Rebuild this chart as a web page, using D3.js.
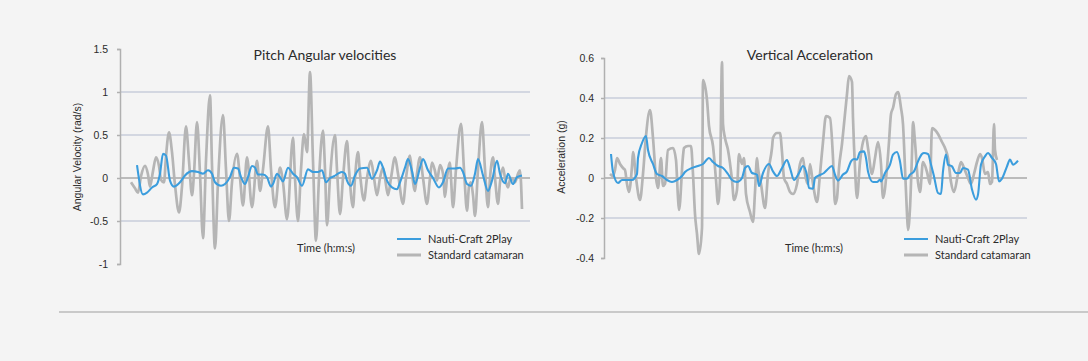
<!DOCTYPE html>
<html>
<head>
<meta charset="utf-8">
<script src="https://cdn.jsdelivr.net/npm/d3@7"></script>
<style>
  body { margin: 0; background: #f4f4f4; }
  svg { display: block; }
  text { fill: #2b2b2b; }
</style>
</head>
<body>
<div id="chart"></div>
<script>

// Pitch angular velocity (rad/s), [time (s), value]
var pitchCatamaran = [[11,-0.05],[15,-0.12],[18,-0.17],[21,0.02],[25,0.14],[28,0.04],[30,-0.1],[33,0.08],[36,0.24],[39,0.14],[41,-0.02],[44,-0.05],[46,0.25],[49,0.53],[52,0.3],[55,-0.08],[59,-0.4],[62,-0.1],[66,0.6],[69,0.2],[72,-0.2],[74,0.05],[77,0.65],[80,0.05],[83,-0.7],[86,0.2],[90,0.96],[92,0.15],[95,-0.82],[98,-0.05],[103,0.73],[106,0.1],[109,-0.5],[112,-0.05],[117,0.28],[120,0.0],[123,-0.32],[127,0.24],[132,-0.34],[137,0.2],[140,-0.15],[143,0.1],[148,0.6],[151,0.1],[155,-0.34],[160,0.12],[163,-0.05],[167,-0.48],[173,0.47],[175,0.0],[178,-0.5],[181,0.1],[184,0.51],[187,0.3],[190,1.23],[193,0.2],[196,-0.73],[199,0.0],[203,0.55],[205,0.1],[207,-0.55],[210,0.0],[215,0.5],[217,0.1],[220,-0.42],[223,0.0],[227,0.43],[229,0.1],[233,-0.34],[235,0.0],[238,0.3],[240,0.05],[244,-0.26],[247,0.0],[251,0.2],[254,0.0],[257,-0.2],[260,0.0],[263,0.12],[265,0.0],[268,-0.2],[271,0.0],[275,0.24],[278,0.05],[283,-0.3],[286,0.0],[290,0.26],[292,0.05],[295,-0.15],[297,0.05],[300,0.24],[303,0.0],[307,-0.3],[310,0.0],[312,0.18],[315,0.08],[317,-0.03],[320,0.15],[323,0.05],[325,-0.22],[327,0.0],[330,0.18],[331,0.0],[333,-0.34],[336,0.1],[341,0.63],[344,0.1],[347,-0.38],[349,-0.1],[351,-0.05],[353,-0.2],[355,-0.44],[358,0.1],[362,0.65],[365,0.1],[368,-0.34],[370,0.0],[373,0.24],[375,0.0],[378,-0.3],[380,-0.05],[383,0.12],[385,0.0],[388,-0.11],[390,-0.02],[392,0.0],[395,-0.05],[398,0.05],[400,0.09],[402,-0.36]];

var pitchNautiCraft = [[17,0.15],[23,-0.19],[27,-0.17],[32,-0.11],[37,-0.07],[40,0.05],[43,0.28],[46,0.26],[50,-0.03],[54,-0.1],[60,-0.05],[65,0.03],[72,0.08],[78,0.07],[83,0.05],[88,0.09],[92,0.05],[95,-0.05],[101,-0.09],[105,-0.07],[110,0.01],[114,0.12],[118,0.11],[121,0.01],[125,-0.07],[128,0.01],[132,0.14],[135,0.12],[138,0.04],[143,0.04],[147,0.01],[151,-0.1],[153,-0.07],[157,0.05],[160,0.01],[163,-0.04],[168,0.12],[173,0.05],[177,0.01],[182,-0.09],[188,0.1],[193,0.07],[198,0.07],[202,0.09],[206,-0.05],[210,0.0],[214,0.02],[218,0.05],[222,0.07],[225,0.05],[227,-0.03],[231,-0.09],[235,0.03],[240,0.11],[247,0.12],[252,-0.01],[257,0.09],[260,0.19],[263,0.12],[267,-0.03],[272,-0.11],[277,-0.13],[280,-0.05],[285,0.12],[288,0.22],[292,0.08],[295,-0.07],[300,0.12],[303,0.22],[308,0.09],[313,0.0],[319,-0.11],[323,-0.05],[328,0.11],[335,0.11],[340,0.12],[343,0.07],[347,-0.07],[351,-0.09],[355,0.05],[358,0.22],[363,0.03],[368,-0.15],[372,-0.03],[377,0.2],[380,0.05],[385,-0.06],[388,0.05],[393,-0.07],[397,0.01],[402,0.03]];

// Vertical acceleration (g), [time (s), value]
var accelCatamaran = [[6,0.02],[9,0.01],[11,0.04],[13,0.1],[16,0.07],[19,0.05],[21,0.04],[23,-0.03],[25,-0.07],[28,0.06],[29,0.13],[32,0.0],[36,-0.11],[39,0.02],[42,0.21],[46,0.34],[49,0.2],[52,0.0],[54,-0.05],[57,0.1],[59,-0.04],[61,-0.03],[64,0.14],[69,0.15],[72,0.09],[74,-0.1],[75,-0.16],[79,0.11],[80,0.15],[84,0.16],[87,0.16],[89,0.02],[91,-0.18],[93,-0.28],[95,-0.38],[98,-0.25],[99,0.49],[103,0.39],[105,0.26],[109,0.16],[112,-0.01],[114,-0.13],[116,-0.01],[118,0.58],[119,0.27],[121,0.2],[124,0.14],[128,-0.01],[130,-0.11],[133,-0.06],[135,0.12],[138,0.07],[140,0.1],[142,-0.08],[146,-0.17],[149,-0.22],[151,-0.07],[153,0.1],[154,0.05],[157,-0.03],[161,-0.15],[164,0.02],[168,0.15],[169,0.2],[173,0.225],[176,0.225],[178,0.13],[180,0.0],[183,-0.03],[186,-0.07],[189,-0.08],[193,-0.03],[196,0.07],[199,0.1],[201,0.02],[204,-0.03],[206,0.07],[209,-0.03],[213,-0.12],[216,0.02],[219,0.18],[222,0.31],[226,0.3],[229,0.1],[231,-0.13],[233,-0.1],[235,0.05],[238,0.17],[240,0.27],[243,0.42],[245,0.51],[248,0.48],[249,0.3],[251,0.05],[253,-0.1],[256,0.08],[259,0.18],[262,0.21],[264,0.15],[268,0.02],[271,0.1],[274,0.18],[277,0.07],[279,-0.1],[283,0.05],[285,0.18],[287,0.32],[289,0.35],[292,0.42],[294,0.43],[297,0.35],[299,0.27],[301,0.05],[303,-0.18],[304,-0.26],[306,-0.15],[308,0.12],[309,0.28],[311,0.18],[314,-0.02],[316,-0.07],[319,0.08],[323,0.03],[326,-0.03],[328,0.25],[331,0.24],[334,0.22],[338,0.18],[341,0.15],[344,0.1],[347,-0.02],[350,-0.07],[354,0.02],[357,0.08],[360,0.05],[364,0.0],[367,-0.03],[370,0.02],[373,0.08],[376,0.12],[378,0.1],[381,0.02],[384,0.03],[386,-0.03],[388,-0.02],[390,0.27],[391,0.14],[393,0.09]];

var accelNautiCraft = [[7,0.12],[9,0.03],[14,-0.025],[18,-0.01],[23,-0.01],[28,-0.01],[33,0.02],[34,0.1],[38,0.175],[42,0.21],[44,0.14],[49,0.07],[53,0.02],[58,0.01],[63,-0.01],[68,-0.02],[73,-0.01],[78,0.01],[81,0.03],[88,0.05],[94,0.06],[99,0.07],[105,0.1],[109,0.08],[114,0.06],[119,0.05],[124,0.02],[128,-0.01],[133,-0.02],[138,0.0],[141,0.05],[144,0.06],[148,0.025],[153,0.017],[155,-0.04],[159,0.025],[165,0.07],[169,0.033],[173,0.01],[178,0.05],[183,0.09],[186,0.05],[190,-0.01],[195,0.025],[199,0.06],[203,0.013],[205,-0.05],[209,-0.053],[211,0.0],[215,0.013],[220,0.025],[223,0.04],[228,0.06],[231,0.017],[234,-0.013],[239,0.017],[243,0.033],[247,0.083],[250,0.095],[253,0.092],[256,0.13],[260,0.133],[262,0.1],[264,0.033],[269,-0.02],[273,-0.02],[276,-0.008],[277,-0.017],[281,0.025],[286,0.067],[289,0.117],[293,0.13],[296,0.083],[299,-0.003],[303,-0.003],[306,0.017],[310,0.033],[314,0.083],[318,0.12],[320,0.125],[324,0.12],[327,0.067],[330,0.008],[334,-0.075],[337,-0.08],[339,0.033],[342,0.117],[344,0.067],[348,0.058],[352,0.025],[356,0.025],[359,0.05],[364,0.042],[368,-0.058],[372,-0.108],[374,-0.083],[377,0.067],[381,0.108],[384,0.125],[388,0.1],[392,0.07],[395,-0.017],[398,-0.003],[403,0.058],[406,0.092],[409,0.067],[414,0.087]];

var pitchTicks = [-1, -0.5, 0, 0.5, 1, 1.5];
var pitchGrid = [-0.5, 0, 0.5, 1];
var accelTicks = [-0.4, -0.2, 0, 0.2, 0.4, 0.6];
var accelGrid = [-0.2, 0, 0.2, 0.4];

var seriesNames = ["Nauti-Craft 2Play", "Standard catamaran"];
var blue = "#3b9ddd", grey = "#b5b5b5";

var svg = d3.select("#chart")
  .append("svg")
  .attr("width", 1088)
  .attr("height", 361);

// Draw one of the two panels
function drawPanel(cfg) {
  var x = d3.scaleLinear().domain([0, cfg.tMax]).range([cfg.left, cfg.right]);
  var y = d3.scaleLinear().domain(cfg.yDomain).range([cfg.bottom, cfg.top]);

  var g = svg.append("g");

  // gridlines
  g.selectAll(".grid")
    .data(cfg.grid)
    .enter()
    .append("line")
    .attr("x1", cfg.left)
    .attr("x2", cfg.right)
    .attr("y1", function (d) { return y(d) })
    .attr("y2", function (d) { return y(d) })
    .attr("stroke", function (d) { return d === 0 ? "#a9a9a9" : "#c9cedb" })
    .attr("stroke-width", 1.5);

  // Y axis
  var axis = g.append("g")
    .attr("transform", "translate(" + cfg.left + ",0)")
    .call(d3.axisLeft(y).tickValues(cfg.ticks).tickSize(3).tickPadding(cfg.pad)
      .tickFormat(function (d) { return String(+d.toFixed(2)) }));
  axis.select(".domain").attr("stroke", "#b0b0b0").attr("stroke-width", 1.5);
  axis.selectAll(".tick line").attr("stroke", "#b0b0b0").attr("stroke-width", 1.5);
  axis.selectAll(".tick text")
    .style("font-family", "'Liberation Sans', Arial, sans-serif")
    .style("font-size", "10.5px")
    .attr("fill", "#333");

  // lines
  var line = d3.line()
    .x(function (d) { return x(d[0]) })
    .y(function (d) { return y(d[1]) })
    .curve(d3.curveMonotoneX);

  g.append("path")
    .datum(cfg.catamaran)
    .attr("d", line)
    .attr("fill", "none")
    .attr("stroke", grey)
    .attr("stroke-width", 2.7)
    .attr("stroke-linejoin", "round");

  g.append("path")
    .datum(cfg.nauti)
    .attr("d", line)
    .attr("fill", "none")
    .attr("stroke", blue)
    .attr("stroke-width", 2.1)
    .attr("stroke-linejoin", "round");

  // title
  g.append("text")
    .attr("x", cfg.titleX)
    .attr("y", 60)
    .attr("text-anchor", "middle")
    .style("font-family", "Lato, sans-serif")
    .style("font-size", "14px")
    .text(cfg.title);

  // y label
  g.append("text")
    .attr("transform", "translate(" + cfg.yLabelX + "," + 157 + ") rotate(-90)")
    .attr("text-anchor", "middle")
    .attr("dy", "0.35em")
    .style("font-family", "'Liberation Sans', Arial, sans-serif")
    .style("font-size", "10.5px")
    .text(cfg.yLabel);

  // x label
  g.append("text")
    .attr("x", cfg.timeX)
    .attr("y", 252)
    .style("font-family", "Lato, sans-serif")
    .style("font-size", "11px")
    .text("Time (h:m:s)");

  // legend
  var legend = g.selectAll(".legend")
    .data(seriesNames)
    .enter()
    .append("g")
    .attr("transform", function (d, i) { return "translate(" + cfg.legendX + "," + (239 + i * 16) + ")" });
  legend.append("line")
    .attr("x1", 0).attr("x2", 24)
    .attr("stroke", function (d, i) { return i === 0 ? blue : grey })
    .attr("stroke-width", function (d, i) { return i === 0 ? 2 : 3 });
  legend.append("text")
    .attr("x", 31)
    .attr("dy", "0.35em")
    .style("font-family", "Lato, sans-serif")
    .style("font-size", "11px")
    .text(function (d) { return d });
}

drawPanel({
  left: 120, right: 530, top: 49, bottom: 264, tMax: 410,
  yDomain: [-1, 1.5], ticks: pitchTicks, grid: pitchGrid, pad: 9,
  catamaran: pitchCatamaran, nauti: pitchNautiCraft,
  title: "Pitch Angular velocities", titleX: 325,
  yLabel: "Angular Velocity (rad/s)", yLabelX: 77,
  timeX: 297, legendX: 397
});

drawPanel({
  left: 604, right: 1027, top: 58, bottom: 258, tMax: 423,
  yDomain: [-0.4, 0.6], ticks: accelTicks, grid: accelGrid, pad: 7,
  catamaran: accelCatamaran, nauti: accelNautiCraft,
  title: "Vertical Acceleration", titleX: 810,
  yLabel: "Acceleration (g)", yLabelX: 561,
  timeX: 785, legendX: 904
});

// separator rule under the charts
svg.append("line")
  .attr("x1", 59).attr("x2", 1088)
  .attr("y1", 312).attr("y2", 312)
  .attr("stroke", "#c9c9c9")
  .attr("stroke-width", 2);

</script>
</body>
</html>
